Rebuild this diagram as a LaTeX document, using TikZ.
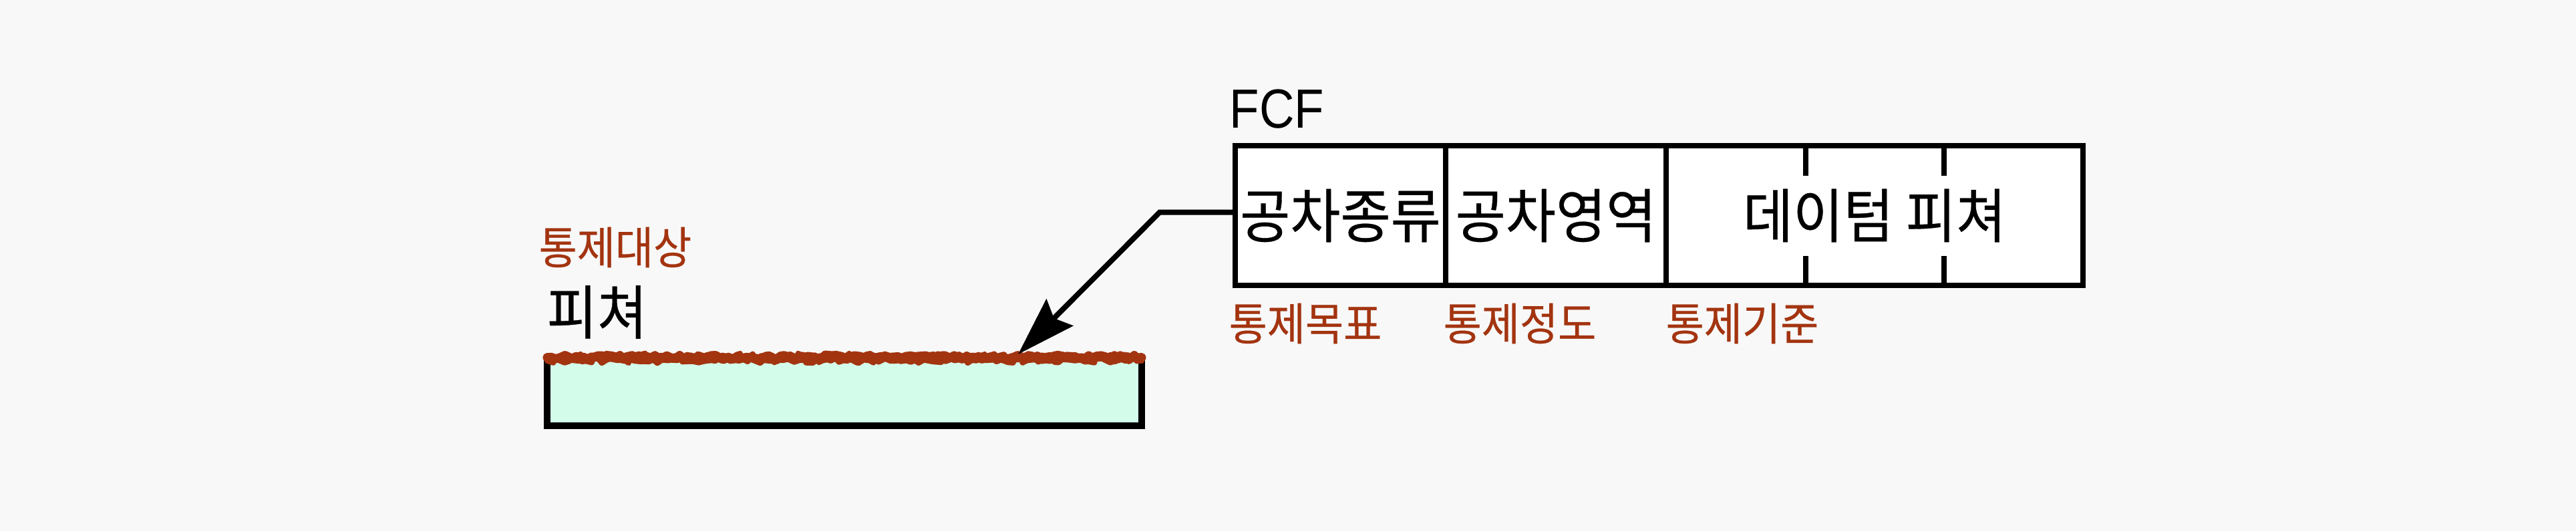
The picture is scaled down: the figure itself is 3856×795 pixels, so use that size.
\documentclass[tikz,border=0pt]{standalone}
\usepackage{fontspec}
\usepackage{xcolor}
\newfontfamily\krfont[FakeStretch=0.93, FakeBold=0.4]{Noto Sans CJK KR}
\newfontfamily\latinfont[FakeStretch=0.88]{Liberation Sans}
\usetikzlibrary{positioning,arrows.meta,decorations.pathmorphing}
\definecolor{bgcol}{RGB}{248,248,248}
\definecolor{ctrlred}{RGB}{163,52,16}
\definecolor{mint}{RGB}{212,252,234}

\begin{document}
\begin{tikzpicture}[x=0.1mm, y=-0.1mm,
  cell/.style={rectangle, draw, fill=white, line width=0.8mm, outer sep=0pt, inner sep=0pt,
    minimum height=20.9mm, font=\krfont\fontsize{25}{26}\selectfont},
  ctrl/.style={anchor=west, inner sep=0pt, text=ctrlred, font=\krfont\fontsize{19}{20}\selectfont},
  arrow/.style={-{Stealth[length=8.8mm, width=5.6mm, inset=1.2mm]}, line width=0.8mm},
  rough/.style={draw=ctrlred, line width=1.3mm, line join=round, line cap=round, decorate,
    decoration={random steps, segment length=0.6mm, amplitude=0.35mm}}]

\pgfmathsetseed{7}
\fill[bgcol] (0,0) rectangle (3856,795);
\useasboundingbox (0,0) rectangle (3856,795);

% FCF record
\node[anchor=base west, inner sep=0pt, font=\latinfont\fontsize{23.5}{24}\selectfont] (fcf) at (1840,191) {FCF};
\node[cell, minimum width=31.5mm] (kind) at (2006.5,322.5) {공차종류};
\node[cell, minimum width=33mm, right=0pt of kind] (zone) {공차영역};
\node[cell, minimum width=62.4mm, right=0pt of zone] (datum) {데이텀 피쳐};
\draw[line width=0.8mm] ([xshift=20.9mm]datum.north west) -- ++(0,-4.5mm);
\draw[line width=0.8mm] ([xshift=20.9mm]datum.south west) -- ++(0,4.4mm);
\draw[line width=0.8mm] ([xshift=41.6mm]datum.north west) -- ++(0,-4.5mm);
\draw[line width=0.8mm] ([xshift=41.6mm]datum.south west) -- ++(0,4.4mm);

\node[ctrl] (goal) at (1839,484) {통제목표};
\node[ctrl] (degree) at (2160,484) {통제정도};
\node[ctrl] (basis) at (2493,484) {통제기준};

% controlled feature
\node[ctrl] (target) at (806,370) {통제대상};
\node[anchor=west, inner sep=0pt, font=\krfont\fontsize{25}{26}\selectfont] (feat) at (818,467) {피쳐};
\node[draw, fill=mint, line width=1mm, minimum width=89mm, minimum height=10.2mm,
  inner sep=0pt, outer sep=0pt] (part) at (1264,586) {};
\draw[rough] (part.north west) -- (part.north east);
\draw[rough, line width=0.8mm] ([yshift=-0.5mm]part.north west) -- ([yshift=-0.5mm]part.north east);
\draw[rough, line width=0.6mm] ([yshift=0.4mm]part.north west) -- ([yshift=0.4mm]part.north east);

\coordinate (hit) at ([xshift=70.5mm, yshift=0.5mm]part.north west);
\draw[arrow] ([yshift=0.5mm]kind.west) -- ++(-11.3mm,0) -- (hit);
\end{tikzpicture}
\end{document}
